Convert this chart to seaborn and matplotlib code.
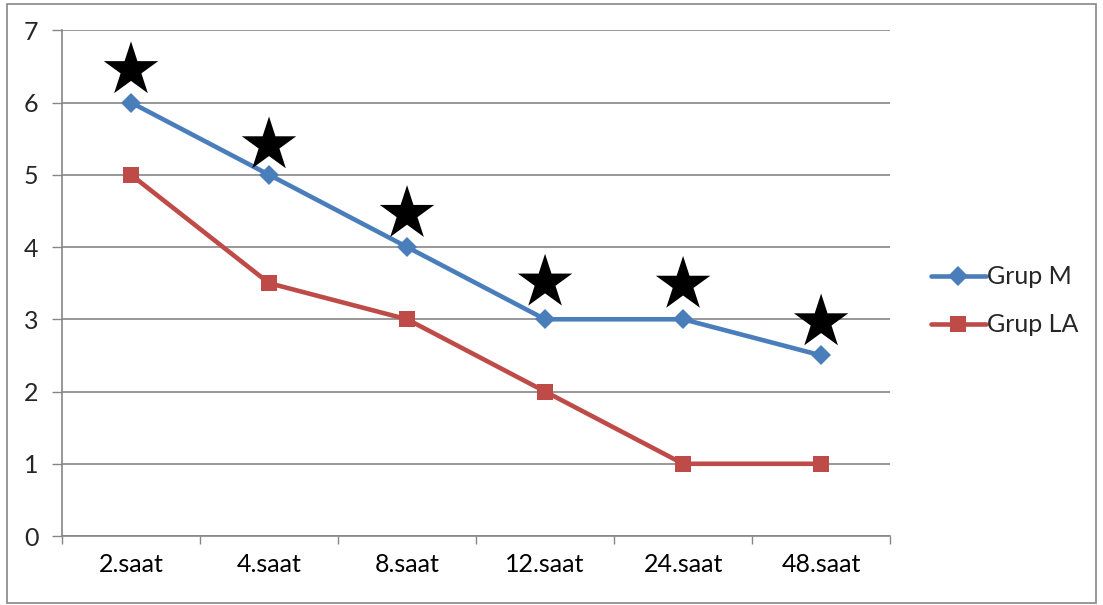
import numpy as np
import pandas as pd
import seaborn as sns
import matplotlib.pyplot as plt
from matplotlib.patches import Rectangle

hours = ['2.saat', '4.saat', '8.saat', '12.saat', '24.saat', '48.saat']
grup_m = [6, 5, 4, 3, 3, 2.5]
grup_la = [5, 3.5, 3, 2, 1, 1]
star_y = [6.45, 5.41, 4.46, 3.51, 3.48, 2.96]

sns.set_theme(style='white')
plt.rcParams['font.family'] = ['Lato', 'DejaVu Sans']

df = pd.DataFrame({'saat': hours * 2,
                   'deger': grup_m + grup_la,
                   'grup': ['Grup M'] * 6 + ['Grup LA'] * 6})

fig = plt.figure(figsize=(11.03, 6.05), dpi=100)
ax = fig.add_axes([0.0562, 0.114, 0.7508, 0.836])

sns.lineplot(data=df, x='saat', y='deger', hue='grup', style='grup',
             palette={'Grup M': '#4A7EBB', 'Grup LA': '#BE4B48'},
             markers={'Grup M': 'D', 'Grup LA': 's'}, dashes=False,
             linewidth=3.3, markersize=10, markeredgewidth=0, ax=ax)
# bigger squares for LA
for line in ax.lines:
    if line.get_marker() == 's':
        line.set_markersize(11.5)

sns.scatterplot(x=hours, y=star_y, marker='*', s=1700, color='black',
                edgecolor='none', ax=ax, legend=False, zorder=5)

ax.set_xlim(-0.5, 5.5)
ax.set_ylim(0, 7)
ax.set_yticks(range(8))
ax.set_xticks(range(6))
ax.set_xticklabels(hours)
ax.set_xticks(np.arange(-0.5, 6, 1), minor=True)
ax.tick_params(axis='x', which='major', length=0, pad=12, labelsize=18, colors='black')
ax.tick_params(axis='x', which='minor', length=6, width=1, color='#868686', bottom=True)
ax.tick_params(axis='y', length=7, width=1, color='#868686', left=True, pad=10, labelsize=18)
ax.set_xlabel('')
ax.set_ylabel('')
ax.yaxis.grid(True, color='#868686', linewidth=1.2)
ax.set_axisbelow(True)
for side in ['top', 'right']:
    ax.spines[side].set_visible(False)
for side in ['left', 'bottom']:
    ax.spines[side].set_color('#868686')
    ax.spines[side].set_linewidth(1.2)

handles, labels = ax.get_legend_handles_labels()
ax.legend(handles, labels, loc='center left', bbox_to_anchor=(1.022, 0.465),
          frameon=False, fontsize=18, handlelength=2.2, handletextpad=0.05,
          labelspacing=1.0)

fig.patches.append(Rectangle((0.006, 0.004), 0.988, 0.99, transform=fig.transFigure,
                             fill=False, edgecolor='#868686', linewidth=1.2))

fig.savefig('out.png', dpi=100)
